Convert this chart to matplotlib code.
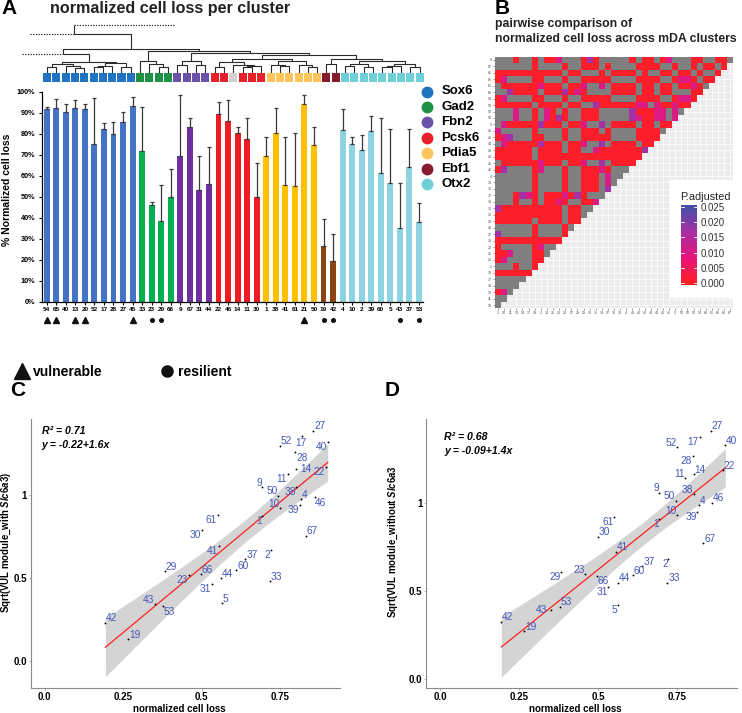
import numpy as np
import matplotlib
matplotlib.use('Agg')
import matplotlib.pyplot as plt
from matplotlib.colors import LinearSegmentedColormap, ListedColormap

plt.rcParams['font.family'] = ['Liberation Sans', 'DejaVu Sans']
plt.rcParams['mathtext.fontset'] = 'custom'
plt.rcParams['mathtext.it'] = 'Liberation Sans:bold:italic'
plt.rcParams['mathtext.rm'] = 'Liberation Sans:bold'
plt.rcParams['mathtext.bf'] = 'Liberation Sans:bold'

# ------------------------------------------------------------------ data
clusters = ['54', '65', '40', '13', '20', '52', '17', '28', '27', '45',
            '33', '23', '29', '66',
            '9', '67', '31', '44',
            '22', '46', '14', '11', '30',
            '1', '38', '41', '61', '21', '50',
            '19', '42',
            '4', '10', '2', '39', '60', '5', '43', '37', '53']
bar_group = (['Sox6'] * 10 + ['Gad2'] * 4 + ['Fbn2'] * 4 + ['Pcsk6'] * 5 +
             ['Pdia5'] * 6 + ['Ebf1'] * 2 + ['Otx2'] * 9)
loss_pct = [91.6, 92.1, 90.2, 92.1, 91.6, 75.0, 82.1, 79.9, 85.6, 93.3,
            71.9, 46.0, 38.4, 49.7,
            69.4, 83.3, 53.2, 56.2,
            89.5, 86.0, 80.2, 77.5, 50.0,
            69.4, 80.2, 55.6, 55.1, 94.1, 74.5,
            26.7, 19.4,
            81.8, 75.0, 72.2, 81.3, 61.1, 56.4, 35.2, 64.0, 37.8]
loss_err = [1.1, 4.6, 3.9, 3.8, 2.5, 22.0, 3.2, 5.5, 4.6, 4.0,
            21.0, 1.6, 17.2, 13.3,
            29.2, 4.0, 16.0, 17.6,
            5.7, 10.2, 3.1, 9.8, 15.9,
            9.2, 11.9, 23.0, 25.1, 4.2, 8.8,
            12.5, 12.7,
            9.8, 3.3, 7.2, 7.1, 26.2, 25.8, 21.2, 18.2, 9.1]
vulnerable = ['54', '65', '13', '20', '45', '21']
resilient = ['23', '29', '19', '42', '43', '53']
group_names = ['Sox6', 'Gad2', 'Fbn2', 'Pcsk6', 'Pdia5', 'Ebf1', 'Otx2']
strip_groups = (['Sox6'] * 10 + ['Gad2'] * 4 + ['Fbn2'] * 4 +
                ['Pcsk6', 'Pcsk6', 'none', 'Pcsk6', 'Pcsk6', 'Pcsk6'] +
                ['Pdia5'] * 6 + ['Ebf1'] * 2 + ['Otx2'] * 9)

# dendrogram: leaf = strip index; ('n', left, right, height);
# ('cut', child, height, node_x, cut_end) = link to clusters outside the figure
sox6_tree = ('n', ('n', ('n', 0, 1, 6.0), ('n', 2, ('n', 3, 4, 5.0), 7.0), 9.5),
             ('n', ('n', ('n', 5, 6, 5.7), 7, 7.5), ('n', 8, 9, 6.0), 10.3), 11.0)
gad2_tree = ('n', 10, ('n', 11, ('n', 12, 13, 6.5), 9.0), 12.3)
fbn2_tree = ('n', ('n', 14, 15, 7.7), ('n', 16, 17, 7.7), 11.7)
pcsk6_tree = ('n', ('n', 18, 19, 5.7), ('n', 20, ('n', ('n', 21, 22, 5.7), 23, 6.7), 8.3), 11.0)
pdia5_tree = ('n', ('n', 24, ('n', 25, 26, 6.7), 8.3), ('n', 27, ('n', 28, 29, 5.7), 8.3), 12.3)
ebf1_tree = ('n', 30, 31, 9.0)
otx2_tree = ('n', ('n', ('n', 32, 33, 6.7), ('n', 34, 35, 5.7), 9.0),
             ('n', ('n', ('n', 36, 37, 5.7), 38, 6.7), ('n', 39, 40, 5.7), 9.0), 12.3)
right_tree = ('n', ('n', pcsk6_tree, pdia5_tree, 14.3), ('n', ebf1_tree, otx2_tree, 14.3), 18.3)
rest_tree = ('n', gad2_tree, ('n', fbn2_tree, right_tree, 19.7), 21.7)
dendro = ('cut', ('n', ('cut', sox6_tree, 19.0, 2.18, -2.2), rest_tree, 24.3), 39.0, 3.43, -1.3)
dendro_root = (47.7, 14.2)

# pairwise heatmap
hm_x = ['1', '10', '11', '13', '14', '17', '19', '2', '20', '21', '22', '23', '27',
        '28', '29', '30', '31', '33', '37', '38', '39', '4', '40', '41', '42', '43',
        '44', '45', '46', '5', '50', '52', '53', '54', '60', '61', '65', '66', '67']
hm_y_top_down = ['9', '67', '66', '65', '61', '60', '54', '53', '52', '50', '5', '46',
                 '45', '44', '43', '42', '41', '40', '4', '39', '38', '37', '33', '31',
                 '30', '29', '28', '27', '23', '22', '21', '20', '2', '19', '17', '14',
                 '13', '11', '10']
# one string per row (top to bottom), one letter per column from the left:
# g = not significant, r/m/p/b = significant, adjusted p rising from r to b
hm_rows = [
    'gggrggrgrr' 'mgggrprggg' 'ggrgrrgrmg' 'ggrrggrrg',
    'ggggggrggg' 'grggrrrgrg' 'gggrrrrggr' 'ggrgrrgr',
    'rrrrrrrrrr' 'rgrrgggrgr' 'rrrgrggrrg' 'rrgrggr',
    'rmggggrrgg' 'grggrrrrrg' 'gggrrrrggr' 'mmrgrr',
    'grrrrrrmrr' 'rgrrmggmgr' 'rrrgrrgrrg' 'rrmrg',
    'ggprrrrgrr' 'rprmrggggr' 'rrrgrrgrrg' 'ggrr',
    'rmggggrrgg' 'grggrrrrrg' 'gggrrrrggr' 'mmr',
    'rrrrrrgrrr' 'rgrrggprrr' 'rrrmmgmrrm' 'rr',
    'gggmggrgmr' 'grggrrrggg' 'ggprrrmmgm' 'g',
    'gggmggrgmr' 'prggrrrggg' 'ggpmrrmmgm',
    'gmrrrrrprr' 'rgrrmggpgr' 'rrrgrrgrr',
    'mgggggrggg' 'grggrrrgrg' 'gggrrrrg',
    'rmpgggrrgg' 'grggrrrrrg' 'gggrrrr',
    'gmrrrrrprr' 'rgrrmggpgr' 'rrrgrr',
    'rrrrrrgrrr' 'rgrrggmrrr' 'rrrrp',
    'rrrrrrgrrr' 'rrrrrrrrrr' 'rrrr',
    'grrrrrrmrr' 'rgrrmggpgr' 'rrr',
    'rpggggrmgg' 'grggrrrmrg' 'gg',
    'ggggggrggg' 'grggrrrgmg' 'g',
    'ggggggrggg' 'grggrrrgmg',
    'ggggggrggg' 'grggrrrgp',
    'gggrpmrgrr' 'rmrprggg',
    'gggrggrgrr' 'mrggrrm',
    'prrrrrrrrr' 'rgrrgg',
    'rrrrrrrrrr' 'rgrrg',
    'rrrrrrgrrr' 'rgrr',
    'ggggggrggg' 'grg',
    'pgggggrggg' 'gr',
    'rrrrrrrrrrr',
    'rgggggrmgg',
    'rrmgggrrg',
    'rmggggrr',
    'gggrggr',
    'rrrrrr',
    'ggggg',
    'gggg',
    'rmg',
    'gg',
    'g',
]
code_p = {'r': 0.001, 'm': 0.010, 'p': 0.017, 'b': 0.023}

# scatter panels C / D
sc_clusters = ['27', '17', '52', '40', '28', '14', '22', '11', '9', '50', '38', '4',
               '10', '39', '46', '1', '61', '30', '67', '41', '37', '2', '60', '29',
               '66', '23', '44', '31', '33', '5', '43', '53', '42', '19']
vul_with = [1.387, 1.355, 1.297, 1.317, 1.257, 1.155, 1.167, 1.127, 1.046, 0.996, 1.046, 0.976,
            0.920, 0.940, 0.986, 0.875, 0.880, 0.789, 0.755, 0.695, 0.614, 0.669, 0.548, 0.542,
            0.524, 0.518, 0.498, 0.464, 0.480, 0.347, 0.341, 0.331, 0.231, 0.134]
vul_without = [1.413, 1.379, 1.319, 1.332, 1.271, 1.167, 1.190, 1.142, 1.060, 1.015, 1.053, 0.990,
               0.933, 0.952, 1.003, 0.911, 0.924, 0.810, 0.772, 0.725, 0.643, 0.683, 0.592, 0.607,
               0.588, 0.598, 0.548, 0.522, 0.548, 0.421, 0.390, 0.412, 0.326, 0.273]

# ------------------------------------------------------------------ style
bar_colors = {'Sox6': '#4472C4', 'Gad2': '#00B050', 'Fbn2': '#7030A0', 'Pcsk6': '#EE1C24',
              'Pdia5': '#FFC000', 'Ebf1': '#8B4513', 'Otx2': '#8ED3E1'}
grp_colors = {'Sox6': '#2175BF', 'Gad2': '#1E9144', 'Fbn2': '#6A52A8', 'Pcsk6': '#E8202A',
              'Pdia5': '#FDC55C', 'Ebf1': '#861B2D', 'Otx2': '#6FD0D8', 'none': '#D0D0D0'}
lab_blue = '#4658B8'

W, H = 742, 713
fig = plt.figure(figsize=(W / 100, H / 100), dpi=100)


def ax_px(x0, y0, x1, y1, **kw):
    return fig.add_axes([x0 / W, 1 - y1 / H, (x1 - x0) / W, (y1 - y0) / H], **kw)


def ftext(x, y, s, **kw):
    fig.text(x / W, 1 - y / H, s, **kw)


# ------------------------------------------------------------------ panel A
ftext(1, 9, 'A', fontsize=15, fontweight='bold', va='center')
ftext(50, 9, 'normalized cell loss per cluster', fontsize=11.6, fontweight='bold',
      va='center', color='#222222')

# dendrogram
axD = ax_px(42.3, 20, 424.3, 73)
nleaf = len(strip_groups)
axD.set_xlim(0, nleaf)
axD.set_ylim(0, 53)
axD.axis('off')
dkw = dict(color='#2A2A2A', lw=0.8, solid_capstyle='butt', clip_on=False)
dotkw = dict(color='#2A2A2A', lw=0.8, ls=(0, (1.2, 1.2)), clip_on=False)


def draw_tree(node):
    if isinstance(node, int):
        return node + 0.5, 0
    if node[0] == 'n':
        _, l, r, h = node
        xl, hl = draw_tree(l)
        xr, hr = draw_tree(r)
        axD.plot([xl, xl, xr, xr], [hl, h, h, hr], **dkw)
        return (xl + xr) / 2, h
    _, child, h, nx, cut_end = node
    xc, hc = draw_tree(child)
    axD.plot([xc, xc, nx], [hc, h, h], **dkw)
    axD.plot([cut_end, nx], [h, h], **dotkw)
    return nx, h


rx, rh = draw_tree(dendro)
axD.plot([rx, rx], [rh, dendro_root[0]], **dkw)
axD.plot([rx, dendro_root[1]], [dendro_root[0], dendro_root[0]], **dotkw)

# colour strip
axS = ax_px(42.3, 73, 424.3, 82.3)
axS.set_xlim(0, nleaf)
axS.set_ylim(0, 1)
axS.axis('off')
for i, g in enumerate(strip_groups):
    axS.bar(i + 0.5, 1, width=0.86, bottom=0, color=grp_colors[g])

# bars
axA = ax_px(41.7, 91.7, 423, 301.7)
xs = np.arange(len(clusters))
axA.bar(xs, loss_pct, width=0.62, color=[bar_colors[g] for g in bar_group],
        edgecolor='none', zorder=2)
axA.errorbar(xs, loss_pct, yerr=[np.zeros(len(xs)), loss_err], fmt='none',
             ecolor='#3A3A3A', elinewidth=0.9, capsize=1.6, capthick=0.9, zorder=3)
axA.set_xlim(-0.52, len(xs) - 0.58)
axA.set_ylim(0, 100)
axA.set_yticks(np.arange(0, 101, 10))
axA.set_yticklabels([f'{v}%' for v in range(0, 101, 10)], fontsize=5.3, fontweight='bold')
axA.set_xticks(xs)
axA.set_xticklabels(clusters, fontsize=4.6, fontweight='bold')
axA.tick_params(axis='y', length=2.5, width=0.8, pad=2)
axA.tick_params(axis='x', length=2, width=0.8, pad=2)
for s in ['top', 'right']:
    axA.spines[s].set_visible(False)
for s in ['left', 'bottom']:
    axA.spines[s].set_linewidth(0.9)
for c in vulnerable:
    axA.plot(clusters.index(c), -8.8, marker='^', ms=4.8, color='#111111', clip_on=False)
for c in resilient:
    axA.plot(clusters.index(c), -8.8, marker='o', ms=2.6, color='#111111', clip_on=False)
ftext(7, 190, '% Normalized cell loss', rotation=90, fontsize=7.5, fontweight='bold',
      ha='center', va='center')

# group legend
for i, g in enumerate(group_names):
    y = 91.5 + i * 15.45
    fig.add_artist(plt.Line2D([427 / W], [1 - y / H], marker='o', ms=7.5,
                              color=grp_colors[g], transform=fig.transFigure))
    ftext(441.5, y, g, fontsize=9.5, fontweight='bold', va='center')

# vulnerable / resilient legend
fig.add_artist(plt.Line2D([22 / W], [1 - 371 / H], marker='^', ms=11, color='#111111',
                          transform=fig.transFigure))
ftext(33, 372, 'vulnerable', fontsize=10, fontweight='bold', va='center')
fig.add_artist(plt.Line2D([167 / W], [1 - 371 / H], marker='o', ms=8, color='#111111',
                          transform=fig.transFigure))
ftext(178, 372, 'resilient', fontsize=10, fontweight='bold', va='center')

# ------------------------------------------------------------------ panel B
ftext(495, 9, 'B', fontsize=15, fontweight='bold', va='center')
ftext(495, 23.5, 'pairwise comparison of', fontsize=8.8, fontweight='bold', va='center',
      color='#222222')
ftext(495, 38.5, 'normalized cell loss across mDA clusters', fontsize=8.8,
      fontweight='bold', va='center', color='#222222')

n = len(hm_x)
axB = ax_px(495, 56.7, 733.3, 308.3)
axB.set_facecolor('#EBEBEB')
axB.set_xlim(-0.5, n - 0.5)
axB.set_ylim(-0.5, n - 0.5)
for i in range(n):
    axB.axhline(i, color='white', lw=0.5, zorder=0)
    axB.axvline(i, color='white', lw=0.5, zorder=0)
gray_m = np.full((n, n), np.nan)
pval = np.full((n, n), np.nan)
for r, row in enumerate(hm_rows):
    yi = n - 1 - r
    for c, ch in enumerate(row[:n - r]):
        if ch == 'g':
            gray_m[yi, c] = 1
        else:
            pval[yi, c] = code_p[ch]
edges = np.arange(n + 1) - 0.5
axB.pcolormesh(edges, edges, np.ma.masked_invalid(gray_m), cmap=ListedColormap(['#7F7F7F']),
               zorder=1)
pcmap = LinearSegmentedColormap.from_list('padj', ['#FF1F1F', '#E8157A', '#A62FA5', '#3F51A8'])
axB.pcolormesh(edges, edges, np.ma.masked_invalid(pval), cmap=pcmap, vmin=0, vmax=0.025,
               zorder=1)
axB.set_xticks(range(n))
axB.set_xticklabels(hm_x, fontsize=2.6, color='#4D4D4D')
axB.set_yticks(range(n))
axB.set_yticklabels(hm_y_top_down[::-1], fontsize=2.6, color='#4D4D4D')
axB.tick_params(length=1.2, width=0.4, pad=1, color='#4D4D4D')
for s in axB.spines.values():
    s.set_visible(False)

# colour-bar legend
axL = ax_px(670, 180, 738, 298)
axL.set_xticks([])
axL.set_yticks([])
for s in axL.spines.values():
    s.set_visible(False)
axL.set_facecolor('white')
ftext(680.5, 197, 'P.adjusted', fontsize=7.8, va='center', color='#222222')
axC = ax_px(680.7, 205, 696.7, 285)
grad = np.linspace(0, 0.025, 200).reshape(-1, 1)
axC.imshow(grad, aspect='auto', origin='lower', cmap=pcmap, extent=[0, 1, -0.0008, 0.0258])
axC.set_xlim(0, 1)
axC.set_ylim(-0.0008, 0.0258)
axC.set_xticks([])
ticks = [0.0, 0.005, 0.010, 0.015, 0.020, 0.025]
axC.set_yticks(ticks)
axC.yaxis.tick_right()
axC.set_yticklabels([f'{t:.3f}' for t in ticks], fontsize=7, color='#333333')
axC.tick_params(axis='y', length=0, pad=3)
for t in ticks:
    axC.plot([0, 0.2], [t, t], color='white', lw=0.6)
    axC.plot([0.8, 1], [t, t], color='white', lw=0.6)
for s in axC.spines.values():
    s.set_visible(False)

# ------------------------------------------------------------------ panels C, D
loss_map = dict(zip(clusters, loss_pct))
sx = np.array([loss_map[c] / 100 for c in sc_clusters])

dirs_C = {'27': 'ru', '17': 'b', '52': 'ru', '40': 'lb', '28': 'rb', '14': 'r', '22': 'lb',
          '11': 'lb', '9': 'lu', '50': 'lu', '38': 'lb', '4': 'ru', '10': 'lu', '39': 'lb',
          '46': 'rb', '1': 'lb', '61': 'lb', '30': 'lb', '67': 'ru', '41': 'lb', '37': 'ru',
          '2': 'lb', '60': 'ru', '29': 'ru', '66': 'ru', '23': 'lb', '44': 'ru', '31': 'lb',
          '33': 'ru', '5': 'ru', '43': 'lu', '53': 'rb', '42': 'ru', '19': 'ru'}
dirs_D = {'27': 'ru', '17': 'lb', '52': 'lu', '40': 'ru', '28': 'lb', '14': 'ru', '22': 'ru',
          '11': 'lu', '9': 'lu', '50': 'lu', '38': 'lu', '4': 'ru', '10': 'lu', '39': 'lb',
          '46': 'ru', '1': 'lb', '61': 'lb', '30': 'ru', '67': 'ru', '41': 'ru', '37': 'ru',
          '2': 'lb', '60': 'ru', '29': 'lb', '66': 'rb', '23': 'lu', '44': 'ru', '31': 'lb',
          '33': 'ru', '5': 'lb', '43': 'l', '53': 'ru', '42': 'ru', '19': 'ru'}
off = {'ru': (0.5, -0.5, 'left', 'bottom'), 'rb': (0.5, -0.5, 'left', 'top'),
       'lu': (-0.5, -0.5, 'right', 'bottom'), 'lb': (-0.5, 0.0, 'right', 'top'),
       'r': (3.0, 0, 'left', 'center'), 'l': (-3.0, 0, 'right', 'center'),
       'b': (-1.0, -1.5, 'center', 'top')}


def scatter_panel(box, xlim, ylim, yv, dirs, ylabel, r2, eq, eqpos, letter, letpos, ylab_x):
    ax = ax_px(*box)
    ax.set_xlim(*xlim)
    ax.set_ylim(*ylim)
    yv = np.array(yv)
    b1, b0 = np.polyfit(sx, yv, 1)
    xx = np.linspace(sx.min(), sx.max(), 100)
    fit = b0 + b1 * xx
    nn = len(sx)
    resid = yv - (b0 + b1 * sx)
    s = np.sqrt(np.sum(resid ** 2) / (nn - 2))
    se = s * np.sqrt(1 / nn + (xx - sx.mean()) ** 2 / np.sum((sx - sx.mean()) ** 2))
    tval = 2.037
    ax.fill_between(xx, fit - tval * se, fit + tval * se, color='#D4D4D4', lw=0, zorder=1)
    ax.plot(xx, fit, color='#FF2020', lw=0.9, zorder=2)
    ax.scatter(sx, yv, s=1.8, color='black', zorder=3, lw=0)
    for c, x, y in zip(sc_clusters, sx, yv):
        dx, dy, ha, va = off[dirs[c]]
        ax.annotate(c, (x, y), xytext=(dx, dy), textcoords='offset points', ha=ha, va=va,
                    fontsize=7.3, color=lab_blue, zorder=4)
    ax.set_xticks([0, 0.25, 0.5, 0.75])
    ax.set_xticklabels(['0.0', '0.25', '0.5', '0.75'], fontsize=7, fontweight='bold')
    ax.set_yticks([0, 0.5, 1])
    ax.set_yticklabels(['0.0', '0.5', '1'], fontsize=7, fontweight='bold')
    ax.tick_params(length=1.5, width=0.5, color='#8A8A8A', pad=1.2)
    for sp in ['top', 'right']:
        ax.spines[sp].set_visible(False)
    for sp in ['left', 'bottom']:
        ax.spines[sp].set_color('#8A8A8A')
        ax.spines[sp].set_linewidth(0.8)
    xc = (box[0] + box[2]) / 2 - 6
    ftext(xc, 708.5, 'normalized cell loss', fontsize=7, fontweight='bold',
          ha='center', va='center')
    ftext(ylab_x, 542, ylabel, rotation=90, fontsize=6.9, fontweight='bold',
          ha='center', va='center')
    ftext(eqpos[0], eqpos[1], r2, fontsize=7.6, fontweight='bold', fontstyle='italic',
          va='center')
    ftext(eqpos[0], eqpos[1] + 13.5, eq, fontsize=7.6, fontweight='bold', fontstyle='italic',
          va='center')
    ftext(letpos[0], letpos[1], letter, fontsize=15, fontweight='bold', va='center')
    return ax


scatter_panel((31, 419.3, 340, 688.3), (-0.043, 0.941), (-0.164, 1.456), vul_with, dirs_C,
              r'Sqrt(VUL module_with $\mathit{Slc6a3}$)', 'R² = 0.71', 'y = -0.22+1.6x',
              (41.7, 431), 'C', (10, 390), 6.5)
scatter_panel((426, 419.3, 737, 688.3), (-0.044, 0.939), (-0.053, 1.478), vul_without, dirs_D,
              r'Sqrt(VUL module_without $\mathit{Slc6a3}$', 'R² = 0.68', 'y = -0.09+1.4x',
              (444, 437), 'D', (385, 390), 393)

fig.savefig('out.png', dpi=100)
